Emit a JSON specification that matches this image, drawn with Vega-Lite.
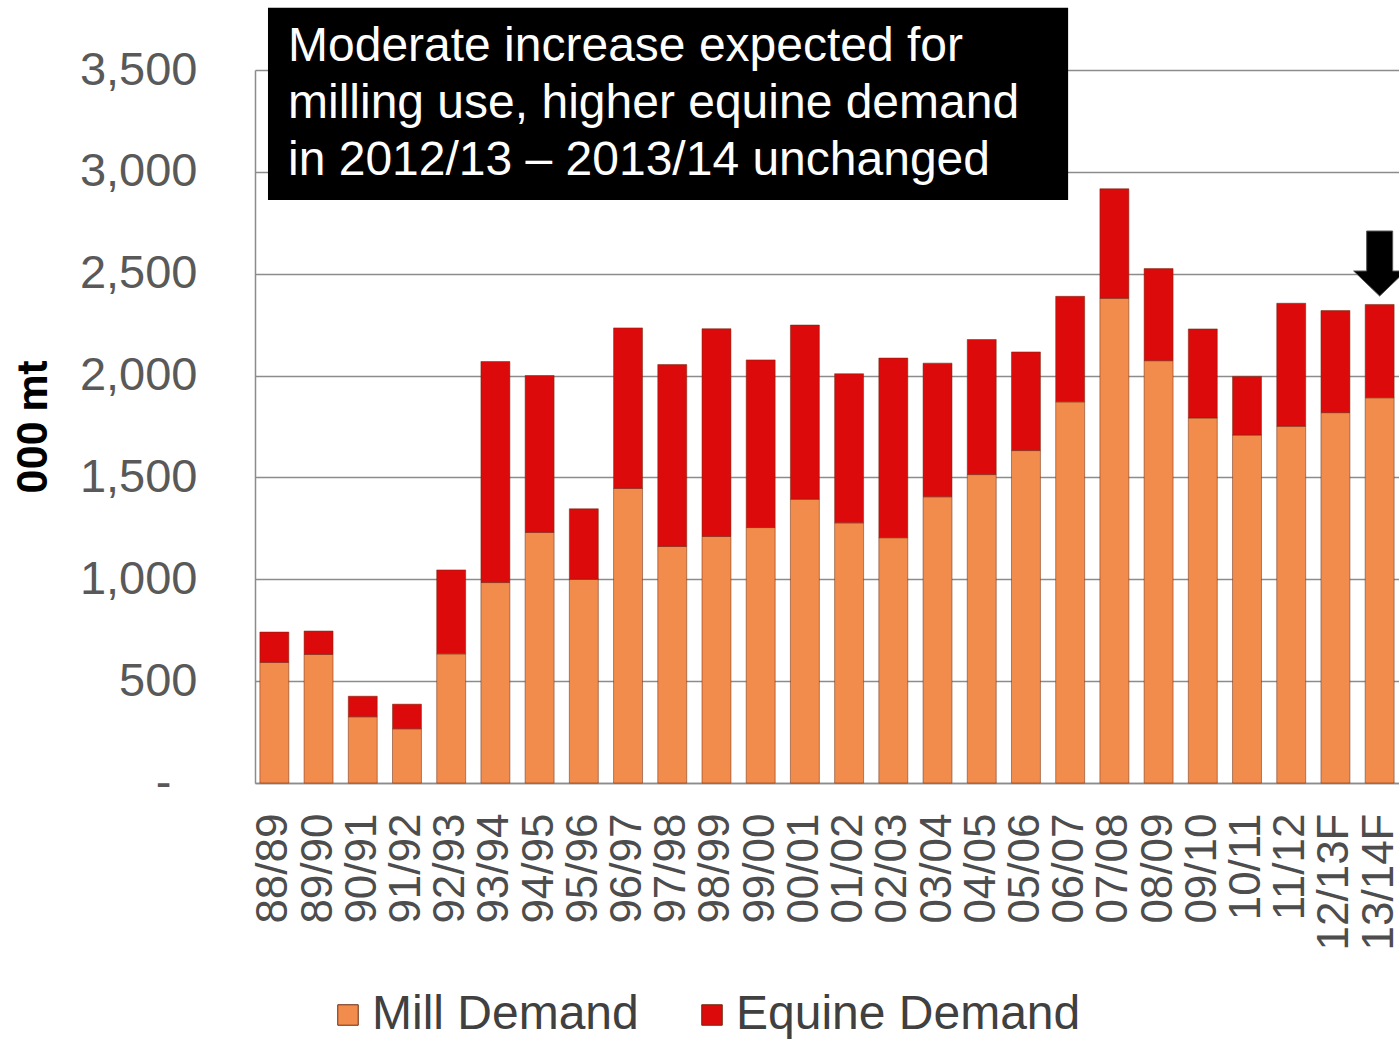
{
  "$schema": "https://vega.github.io/schema/vega-lite/v6.json",
  "width": 1144,
  "height": 713,
  "autosize": {"type": "none"},
  "padding": {"left": 255, "top": 70, "right": 0, "bottom": 257},
  "background": "white",
  "config": {
    "font": "Liberation Sans",
    "view": {"stroke": null},
    "axis": {"domainColor": "#8C8C8C", "domainWidth": 1.5, "gridColor": "#8C8C8C", "gridWidth": 1.5, "ticks": false}
  },
  "layer": [
    {
      "data": {"values": [
        {"season": "88/89", "type": "Mill Demand", "value": 592}, {"season": "88/89", "type": "Equine Demand", "value": 149},
        {"season": "89/90", "type": "Mill Demand", "value": 631}, {"season": "89/90", "type": "Equine Demand", "value": 115},
        {"season": "90/91", "type": "Mill Demand", "value": 325}, {"season": "90/91", "type": "Equine Demand", "value": 101},
        {"season": "91/92", "type": "Mill Demand", "value": 266}, {"season": "91/92", "type": "Equine Demand", "value": 121},
        {"season": "92/93", "type": "Mill Demand", "value": 634}, {"season": "92/93", "type": "Equine Demand", "value": 412},
        {"season": "93/94", "type": "Mill Demand", "value": 984}, {"season": "93/94", "type": "Equine Demand", "value": 1085},
        {"season": "94/95", "type": "Mill Demand", "value": 1230}, {"season": "94/95", "type": "Equine Demand", "value": 770},
        {"season": "95/96", "type": "Mill Demand", "value": 1000}, {"season": "95/96", "type": "Equine Demand", "value": 346},
        {"season": "96/97", "type": "Mill Demand", "value": 1446}, {"season": "96/97", "type": "Equine Demand", "value": 788},
        {"season": "97/98", "type": "Mill Demand", "value": 1161}, {"season": "97/98", "type": "Equine Demand", "value": 893},
        {"season": "98/99", "type": "Mill Demand", "value": 1210}, {"season": "98/99", "type": "Equine Demand", "value": 1020},
        {"season": "99/00", "type": "Mill Demand", "value": 1254}, {"season": "99/00", "type": "Equine Demand", "value": 823},
        {"season": "00/01", "type": "Mill Demand", "value": 1393}, {"season": "00/01", "type": "Equine Demand", "value": 855},
        {"season": "01/02", "type": "Mill Demand", "value": 1277}, {"season": "01/02", "type": "Equine Demand", "value": 732},
        {"season": "02/03", "type": "Mill Demand", "value": 1204}, {"season": "02/03", "type": "Equine Demand", "value": 882},
        {"season": "03/04", "type": "Mill Demand", "value": 1405}, {"season": "03/04", "type": "Equine Demand", "value": 656},
        {"season": "04/05", "type": "Mill Demand", "value": 1514}, {"season": "04/05", "type": "Equine Demand", "value": 663},
        {"season": "05/06", "type": "Mill Demand", "value": 1632}, {"season": "05/06", "type": "Equine Demand", "value": 484},
        {"season": "06/07", "type": "Mill Demand", "value": 1871}, {"season": "06/07", "type": "Equine Demand", "value": 518},
        {"season": "07/08", "type": "Mill Demand", "value": 2379}, {"season": "07/08", "type": "Equine Demand", "value": 538},
        {"season": "08/09", "type": "Mill Demand", "value": 2073}, {"season": "08/09", "type": "Equine Demand", "value": 452},
        {"season": "09/10", "type": "Mill Demand", "value": 1792}, {"season": "09/10", "type": "Equine Demand", "value": 437},
        {"season": "10/11", "type": "Mill Demand", "value": 1708}, {"season": "10/11", "type": "Equine Demand", "value": 288},
        {"season": "11/12", "type": "Mill Demand", "value": 1751}, {"season": "11/12", "type": "Equine Demand", "value": 604},
        {"season": "12/13F", "type": "Mill Demand", "value": 1818}, {"season": "12/13F", "type": "Equine Demand", "value": 501},
        {"season": "13/14F", "type": "Mill Demand", "value": 1891}, {"season": "13/14F", "type": "Equine Demand", "value": 458}
      ]},
      "layer": [
        {
          "mark": {"type": "bar", "stroke": "#6b2a10", "strokeWidth": 1, "strokeOpacity": 0.5},
          "encoding": {
            "x": {
              "field": "season", "type": "nominal", "sort": null,
              "scale": {"paddingInner": 0.345, "paddingOuter": 0.11},
              "axis": {"title": null, "grid": false, "labelAngle": 270, "labelFontSize": 44, "labelColor": "#4D4D4D", "labelPadding": 30, "ticks": false}
            },
            "y": {
              "field": "value", "type": "quantitative", "stack": "zero",
              "scale": {"domain": [0, 3500], "nice": false},
              "axis": {
                "title": "000 mt", "titleFont": "Roboto", "titleFontWeight": "bold", "titleFontSize": 42, "titleColor": "black", "titlePadding": 33, "titleBaseline": "alphabetic",
                "values": [0, 500, 1000, 1500, 2000, 2500, 3000, 3500],
                "labelExpr": "datum.value === 0 ? '-' : format(datum.value, ',')",
                "labelFontSize": 47, "labelColor": "#595959",
                "labelPadding": {"condition": {"test": "datum.value === 0", "value": 84}, "value": 58},
                "grid": true, "ticks": false
              }
            },
            "color": {
              "field": "type", "type": "nominal",
              "scale": {"domain": ["Mill Demand", "Equine Demand"], "range": ["#F28C4C", "#DC0A0A"]},
              "legend": {
                "title": null, "orient": "none", "legendX": 69, "legendY": 921, "direction": "horizontal",
                "symbolType": "square", "symbolSize": 420, "labelFontSize": 48, "labelColor": "#404040",
                "labelOffset": 0, "columnPadding": 49, "symbolStrokeColor": "#6b2a10", "symbolStrokeWidth": 1,
                "labelLimit": 0, "padding": 0
              }
            },
            "order": {"field": "type", "sort": "descending"}
          }
        },
        {
          "data": {"values": [{"season": "13/14F", "value": 2550}]},
          "mark": {"type": "point", "shape": "M-0.4,-1L0.4,-1L0.4,0.23L0.8,0.23L0,1L-0.8,0.23L-0.4,0.23Z", "size": 4225, "filled": true, "color": "black", "stroke": "#555555", "strokeWidth": 1, "opacity": 1},
          "encoding": {
            "x": {"field": "season", "type": "nominal", "sort": null},
            "y": {"field": "value", "type": "quantitative", "scale": {"domain": [0, 3500], "nice": false}}
          }
        }
      ]
    },
    {
      "data": {"values": [{"x0": 0.295, "x1": 18.48, "y0": 2862, "y1": 3805, "tx": 0.75, "ty": 3613}]},
      "layer": [
        {
          "mark": {"type": "rect", "color": "black"},
          "encoding": {
            "x": {"field": "x0", "type": "quantitative", "scale": {"domain": [0, 26], "nice": false, "zero": false}, "axis": null},
            "x2": {"field": "x1"},
            "y": {"field": "y0", "type": "quantitative", "scale": {"domain": [0, 3500], "nice": false}},
            "y2": {"field": "y1"}
          }
        },
        {
          "mark": {"type": "text", "text": ["Moderate increase expected for", "milling use, higher equine demand", "in 2012/13 – 2013/14 unchanged"], "align": "left", "baseline": "middle", "fontSize": 48, "lineHeight": 57, "color": "white", "font": "Liberation Sans"},
          "encoding": {
            "x": {"field": "tx", "type": "quantitative", "scale": {"domain": [0, 26], "nice": false, "zero": false}, "axis": null},
            "y": {"field": "ty", "type": "quantitative", "scale": {"domain": [0, 3500], "nice": false}}
          }
        }
      ]
    }
  ],
  "resolve": {"scale": {"x": "independent"}}
}
